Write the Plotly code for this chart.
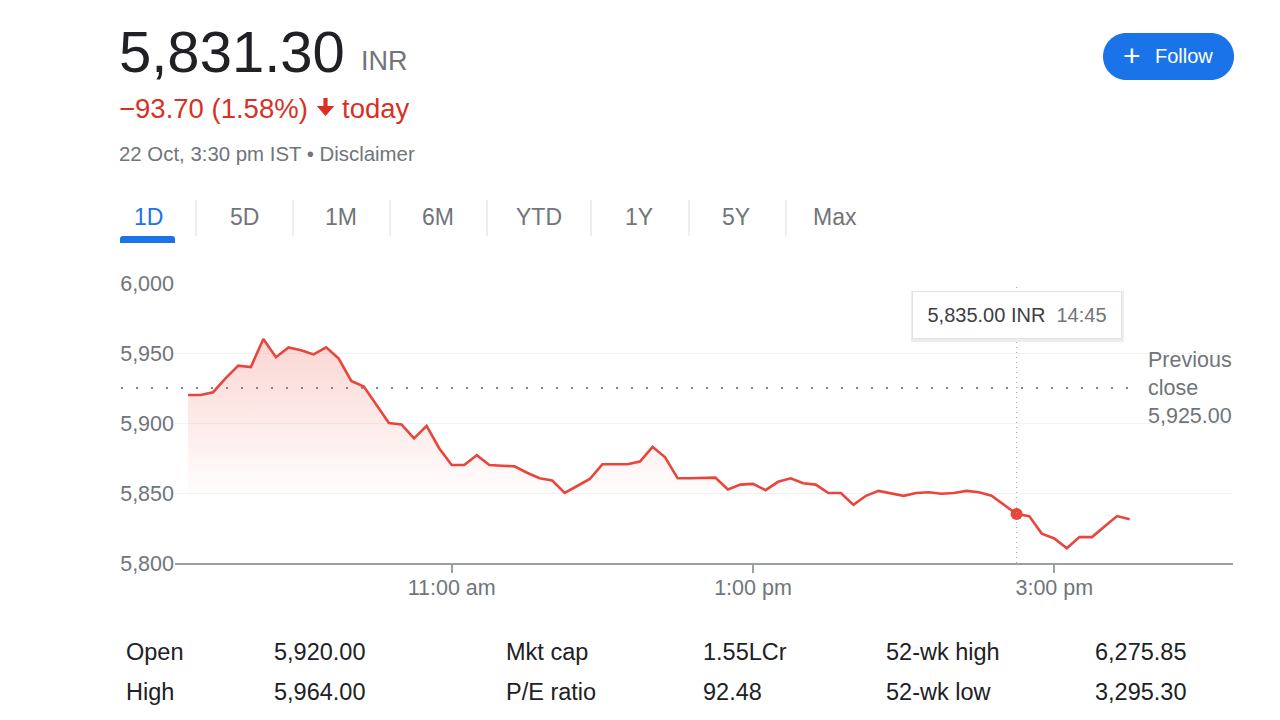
import plotly.graph_objects as go

# ---------------- data ----------------
DATE = "2024-10-22"
times = [
    "09:15", "09:20", "09:25", "09:30", "09:35", "09:40", "09:45", "09:50", "09:55",
    "10:00", "10:05", "10:10", "10:15", "10:20", "10:25", "10:30", "10:35", "10:40",
    "10:45", "10:50", "10:55", "11:00", "11:05", "11:10", "11:15", "11:20", "11:25",
    "11:30", "11:35", "11:40", "11:45", "11:50", "11:55", "12:00", "12:05", "12:10",
    "12:15", "12:20", "12:25", "12:30", "12:35", "12:40", "12:45", "12:50", "12:55",
    "13:00", "13:05", "13:10", "13:15", "13:20", "13:25", "13:30", "13:35", "13:40",
    "13:45", "13:50", "13:55", "14:00", "14:05", "14:10", "14:15", "14:20", "14:25",
    "14:30", "14:35", "14:40", "14:45", "14:50", "14:55", "15:00", "15:05", "15:10",
    "15:15", "15:20", "15:25", "15:30",
]
prices = [
    5920.0, 5920.0, 5922.0, 5932.0, 5941.0, 5940.0, 5960.0, 5947.0, 5954.0,
    5952.0, 5949.0, 5954.0, 5946.0, 5930.0, 5926.0, 5913.0, 5900.0, 5899.0,
    5889.0, 5898.0, 5882.0, 5870.0, 5870.0, 5877.0, 5870.0, 5869.5, 5869.0,
    5864.5, 5860.5, 5859.0, 5850.0, 5855.0, 5860.0, 5870.5, 5870.5, 5870.5,
    5872.5, 5883.0, 5875.5, 5860.5, 5860.5, 5860.5, 5861.0, 5852.5, 5856.0,
    5856.5, 5852.0, 5858.0, 5860.5, 5857.0, 5856.0, 5850.0, 5850.0, 5841.5,
    5848.0, 5851.5, 5850.0, 5848.0, 5850.0, 5850.5, 5849.5, 5850.0, 5851.5,
    5850.5, 5848.0, 5841.5, 5835.0, 5833.5, 5821.0, 5817.5, 5810.5, 5818.5,
    5818.5, 5826.0, 5833.5, 5831.3,
]
prev_close = 5925.00
prev_close_label = "Previous<br>close<br>5,925.00"
hover_time = "14:45"
hover_price = 5835.00
hover_text = "5,835.00 INR"
y_ticks = [5800, 5850, 5900, 5950, 6000]
y_range = [5800, 6000]
x_tick_times = ["11:00", "13:00", "15:00"]
x_tick_labels = ["11:00 am", "1:00 pm", "3:00 pm"]
x_range_times = ["09:09:48", "16:11:10"]

header_price = "5,831.30"
header_currency = "INR"
change_text = "−93.70 (1.58%)"
change_suffix = "today"
date_text = "22 Oct, 3:30 pm IST • Disclaimer"
tabs = ["1D", "5D", "1M", "6M", "YTD", "1Y", "5Y", "Max"]
stats_labels_1 = ["Open", "High"]
stats_values_1 = ["5,920.00", "5,964.00"]
stats_labels_2 = ["Mkt cap", "P/E ratio"]
stats_values_2 = ["1.55LCr", "92.48"]
stats_labels_3 = ["52-wk high", "52-wk low"]
stats_values_3 = ["6,275.85", "3,295.30"]

# ---------------- style / layout ----------------
FONT = "Arial, Liberation Sans, sans-serif"
RED = "#e8453c"
TEXT_RED = "#d93025"
DARK = "#202124"
GRAY = "#70757a"
BLUE = "#1a73e8"

W, H = 1280, 720
L, R, T, B = 175, 1233, 283, 563  # plot area in pixels


def px(x):
    return (x - L) / (R - L)


def py(y):
    return (B - y) / (B - T)


def txt(x, y, s, size, color, xanchor="left", yanchor="middle", **kw):
    d = dict(xref="paper", yref="paper", x=px(x), y=py(y), text=s, showarrow=False,
             font=dict(size=size, color=color, family=FONT),
             xanchor=xanchor, yanchor=yanchor)
    d.update(kw)
    return d


def path_str(segs):
    s = ""
    for cmd, ps in segs:
        s += cmd + " ".join(f"{px(a):.5f},{py(b):.5f}" for a, b in ps) + " "
    return s + "Z"


def pill_path(x0, y0, x1, y1):
    r = (y1 - y0) / 2
    k = 0.5523 * r
    return path_str([
        ("M", [(x0 + r, y0)]),
        ("L", [(x1 - r, y0)]),
        ("C", [(x1 - r + k, y0), (x1, y0 + r - k), (x1, y0 + r)]),
        ("C", [(x1, y0 + r + k), (x1 - r + k, y1), (x1 - r, y1)]),
        ("L", [(x0 + r, y1)]),
        ("C", [(x0 + r - k, y1), (x0, y1 - r + k), (x0, y1 - r)]),
        ("C", [(x0, y1 - r - k), (x0 + r - k, y0), (x0 + r, y0)]),
    ])


def tab_bar_path(x0, y0, x1, y1, r=3):
    return path_str([
        ("M", [(x0, y1)]), ("L", [(x0, y0 + r)]), ("Q", [(x0, y0), (x0 + r, y0)]),
        ("L", [(x1 - r, y0)]), ("Q", [(x1, y0), (x1, y0 + r)]), ("L", [(x1, y1)]),
    ])


def down_arrow_path(cx, top, bottom, head_w=17.5, head_h=10, shaft_w=4.2):
    hs = shaft_w / 2
    hh = head_w / 2
    hy = bottom - head_h
    return path_str([
        ("M", [(cx - hs, top)]), ("L", [(cx + hs, top)]), ("L", [(cx + hs, hy)]),
        ("L", [(cx + hh, hy)]), ("L", [(cx, bottom)]), ("L", [(cx - hh, hy)]),
        ("L", [(cx - hs, hy)]),
    ])


xs = [f"{DATE} {t}" for t in times]

fig = go.Figure()
fig.add_trace(go.Scatter(
    x=xs, y=prices, mode="lines",
    line=dict(color=RED, width=2.6),
    fill="tozeroy",
    fillgradient=dict(type="vertical",
                      colorscale=[[0, "rgba(234,67,53,0)"], [1, "rgba(234,67,53,0.22)"]],
                      start=5845, stop=5962),
    hoverinfo="skip", showlegend=False,
))
fig.add_trace(go.Scatter(
    x=[f"{DATE} {hover_time}"], y=[hover_price], mode="markers",
    marker=dict(color=RED, size=12), hoverinfo="skip", showlegend=False,
))

shapes = []
# previous close dotted line
shapes.append(dict(type="line", xref="paper", yref="y", x0=px(121), x1=px(1136),
                   y0=prev_close, y1=prev_close,
                   line=dict(color="#80868b", width=2, dash="2px,13px")))
# hover vertical dotted line
shapes.append(dict(type="line", xref="x", yref="paper", x0=f"{DATE} {hover_time}",
                   x1=f"{DATE} {hover_time}", y0=0, y1=1,
                   line=dict(color="#9aa0a6", width=1, dash="1px,4px")))
# tooltip shadow
shapes.append(dict(type="rect", xref="paper", yref="paper", x0=px(911), x1=px(1124),
                   y0=py(342), y1=py(291), line=dict(width=0),
                   fillcolor="rgba(0,0,0,0.07)"))
# tab separators
for sx in [196, 293, 390, 487, 591, 689, 786]:
    shapes.append(dict(type="line", xref="paper", yref="paper", x0=px(sx), x1=px(sx),
                       y0=py(200), y1=py(236), line=dict(color="#dadce0", width=1)))
# tab underline
shapes.append(dict(type="path", xref="paper", yref="paper",
                   path=tab_bar_path(120, 236, 175, 243), fillcolor=BLUE, line=dict(width=0)))
# follow button
shapes.append(dict(type="path", xref="paper", yref="paper",
                   path=pill_path(1103, 33, 1234, 80), fillcolor=BLUE, line=dict(width=0)))
# down arrow in change line
shapes.append(dict(type="path", xref="paper", yref="paper",
                   path=down_arrow_path(325.5, 98, 116), fillcolor=TEXT_RED, line=dict(width=0)))

ann = []
ann.append(txt(117, 51, header_price, 58, DARK))
ann.append(txt(359, 61, header_currency, 27, GRAY))
ann.append(txt(117, 108, change_text, 27.5, TEXT_RED))
ann.append(txt(340, 108, change_suffix, 27.5, TEXT_RED))
ann.append(txt(117, 154, date_text, 20.4, GRAY))
tab_centers = [148, 244, 341, 438, 539, 639, 736, 835]
for i, (t, cx) in enumerate(zip(tabs, tab_centers)):
    ann.append(txt(cx, 217, t, 23, BLUE if i == 0 else GRAY, xanchor="center"))
ann.append(txt(1146, 388, prev_close_label, 21.5, GRAY, align="left"))
ann.append(dict(xref="x", yref="paper", x=f"{DATE} {hover_time}", y=py(315),
                text=f"{hover_text}  <span style='color:{GRAY}'>{hover_time}</span>",
                showarrow=False, font=dict(size=20, color="#3c4043", family=FONT),
                xanchor="center", yanchor="middle", bgcolor="white",
                bordercolor="#e3e3e3", borderwidth=1, width=206, height=44))
ann.append(txt(1132, 55, "+", 30, "white", xanchor="center"))
ann.append(txt(1184, 56, "Follow", 20, "white", xanchor="center"))
rows_y = [652, 692]
for cols, xcol in [(stats_labels_1, 124), (stats_values_1, 272), (stats_labels_2, 504),
                   (stats_values_2, 701), (stats_labels_3, 884), (stats_values_3, 1093)]:
    for s, yy in zip(cols, rows_y):
        ann.append(txt(xcol, yy, s, 23.5, DARK))

fig.update_layout(
    width=W, height=H,
    margin=dict(l=L, r=W - R, t=T, b=H - B, pad=0),
    paper_bgcolor="white", plot_bgcolor="white",
    font=dict(family=FONT, color=GRAY),
    showlegend=False, hovermode=False,
    shapes=shapes, annotations=ann,
    xaxis=dict(type="date",
               range=[f"{DATE} {x_range_times[0]}", f"{DATE} {x_range_times[1]}"],
               tickvals=[f"{DATE} {t}" for t in x_tick_times], ticktext=x_tick_labels,
               ticks="outside", ticklen=8, tickwidth=2, tickcolor="#9aa0a6",
               ticklabelstandoff=-4,
               showline=True, linecolor="#9aa0a6", linewidth=2,
               showgrid=False, zeroline=False,
               tickfont=dict(size=21.5, color=GRAY, family=FONT)),
    yaxis=dict(range=y_range, tickvals=y_ticks, tickformat=",",
               showgrid=True, gridcolor="#f1f3f4", gridwidth=1,
               zeroline=False, showline=False, ticks="",
               tickfont=dict(size=21.5, color=GRAY, family=FONT)),
)

fig.write_html("out.html")
